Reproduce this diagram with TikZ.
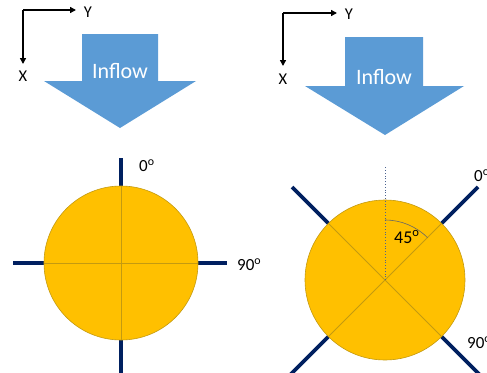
\documentclass[tikz,border=0pt]{standalone}
\usepackage{fontspec}
\setmainfont{Carlito}
\usetikzlibrary{arrows.meta,calc}
\definecolor{flowblue}{HTML}{5B9BD5}
\definecolor{discgold}{HTML}{FFC000}
\definecolor{rimgold}{HTML}{C49A10}
\definecolor{stickblue}{HTML}{002060}
\begin{document}
\begin{tikzpicture}[x=1pt,y=-1pt,
  axisline/.style={line width=1.4pt,-{Triangle[length=6pt,width=6pt]}},
  axislabel/.style={font=\fontsize{16.5}{16.5}\selectfont,inner sep=0pt},
  flowtext/.style={font=\fontsize{22}{22}\selectfont,text=white,inner sep=0pt},
  disc/.style={fill=discgold,draw=rimgold,line width=0.6pt},
  inner/.style={draw=rimgold,line width=0.8pt},
  stick/.style={draw=stickblue,line width=3.8pt},
  anglabel/.style={font=\fontsize{17}{17}\selectfont,inner sep=0pt,anchor=west}]
\useasboundingbox (0,0) rectangle (487,372);
\clip (0,0) rectangle (487,372);

% ---------- left panel: sticks along the axes ----------
\coordinate (oL) at (23,10);
\coordinate (yLend) at (76,10);
\coordinate (xLend) at (23,64);
\node[axislabel] (yL) at (88,12) {Y};
\node[axislabel] (xL) at (23,76) {X};
\draw[axisline] (oL) -- (yLend);
\draw[axisline] (oL) -- (xLend);

\fill[flowblue] (82,34) -- (158,34) -- (158,81) -- (196,81) -- (120,128)
  -- (44,81) -- (82,81) -- cycle;
\node[flowtext] (flowL) at (120,71) {Inflow};

\coordinate (cL) at (121,263);
\draw[stick] ($(cL)+(0,-105)$) -- ($(cL)+(0,110)$);
\draw[stick] ($(cL)+(-108,0)$) -- ($(cL)+(106,0)$);
\draw[disc] (cL) circle[radius=77];
\draw[inner] ($(cL)+(0,-77)$) -- ($(cL)+(0,77)$);
\draw[inner] ($(cL)+(-77,0)$) -- ($(cL)+(77,0)$);
\node[anglabel] (zeroL) at (139,166) {0\textsuperscript{o}};
\node[anglabel] (ninetyL) at (237,265) {90\textsuperscript{o}};

% ---------- right panel: sticks rotated by 45 degrees ----------
\coordinate (oR) at (283,13);
\coordinate (yRend) at (337,13);
\coordinate (xRend) at (283,66);
\node[axislabel] (yR) at (349,14) {Y};
\node[axislabel] (xR) at (283,79) {X};
\draw[axisline] (oR) -- (yRend);
\draw[axisline] (oR) -- (xRend);

\fill[flowblue] (345,37) -- (423,37) -- (423,86) -- (464,86) -- (385,135)
  -- (305,86) -- (345,86) -- cycle;
\node[flowtext] (flowR) at (384,77) {Inflow};

\coordinate (cR) at (385,280);
\draw[stick] ($(cR)+(-93,-93)$) -- ($(cR)+(100,100)$);
\draw[stick] ($(cR)+(93,-93)$) -- ($(cR)+(-100,100)$);
\draw[disc] (cR) circle[radius=80];
\draw[inner] ($(cR)+(-56.6,-56.6)$) -- ($(cR)+(56.6,56.6)$);
\draw[inner] ($(cR)+(56.6,-56.6)$) -- ($(cR)+(-56.6,56.6)$);
\draw[draw=stickblue!70,line width=0.8pt,dotted] (cR) -- ($(cR)+(0,-113)$);
\draw[draw=black!60,line width=0.6pt] ($(cR)+(0,-60)$) arc[start angle=-90,end angle=-45,radius=60];
\node[anglabel,font=\fontsize{18}{18}\selectfont] (fortyfive) at (394,237) {45\textsuperscript{o}};
\node[anglabel] (zeroR) at (474,176) {0\textsuperscript{o}};
\node[anglabel] (ninetyR) at (467,343) {90\textsuperscript{o}};
\end{tikzpicture}
\end{document}
